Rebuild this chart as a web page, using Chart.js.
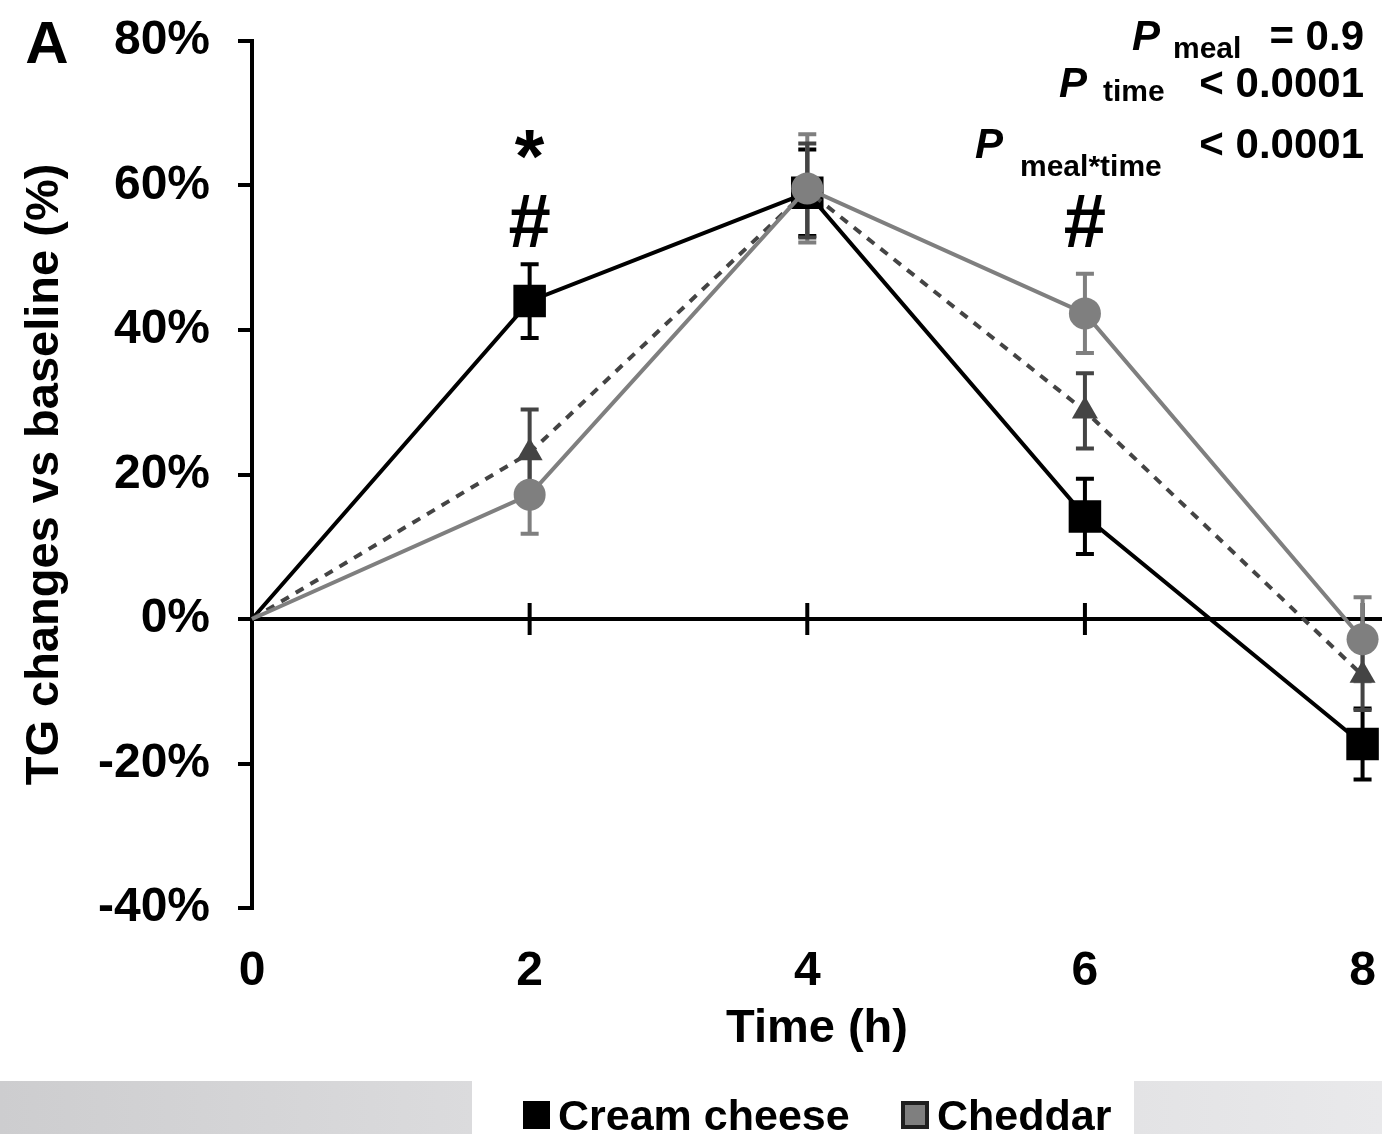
<!DOCTYPE html>
<html>
<head>
<meta charset="utf-8">
<script src="https://cdn.jsdelivr.net/npm/chart.js@4.4.1/dist/chart.umd.min.js"></script>
<style>
	html, body { margin: 0; padding: 0; background: #fff; overflow: hidden; }
	#wrap { position: relative; width: 1382px; height: 1134px; }
	canvas { display: block; }
</style>
</head>
<body>
<div id="wrap"><canvas id="tg-chart"></canvas></div>
<script>
const hours = [0, 2, 4, 6, 8]
const xTicks = [0, 2, 4, 6, 8]
const yTicks = [-40, -20, 0, 20, 40, 60, 80]

const creamCheese = [0, 44.0, 59.0, 14.2, -17.3]
const creamCheeseErr = [0, 5.1, 6.0, 5.2, 4.9]
const cheddar = [0, 17.2, 59.6, 42.3, -2.8]
const cheddarErr = [0, 5.4, 7.5, 5.5, 5.8]
const thirdMeal = [0, 23.0, 59.3, 28.8, -7.8]
const thirdMealErr = [0, 6.0, 6.5, 5.2, 4.8]

// significance marks, anchored at (hour, % change)
const sigMarks = [
	{ x: 2, y: 60.5, text: '*' },
	{ x: 2, y: 51.5, text: '#' },
	{ x: 6, y: 51.5, text: '#' }
]

const pValues = [
	{ sub: 'meal', value: '= 0.9' },
	{ sub: 'time', value: '< 0.0001' },
	{ sub: 'meal*time', value: '< 0.0001' }
]

const FONT = '"Liberation Sans", Arial, Helvetica, sans-serif'

const toPoints = values => hours.map((h, i) => { return { x: h, y: values[i] } })
// no marker at the origin, lines just start there
const radiusFrom = r => c => c.dataIndex === 0 ? 0 : r

const errorBars = {
	id: 'errorBars',
	beforeDatasetsDraw(chart) {
		const ctx = chart.ctx
		const yScale = chart.scales.y
		chart.data.datasets.forEach((ds, di) => {
			const meta = chart.getDatasetMeta(di)
			ctx.save()
			ctx.strokeStyle = ds.borderColor
			ctx.lineWidth = 4
			meta.data.forEach((pt, i) => {
				const err = ds.errors[i]
				if (!err) return
				const v = ds.data[i].y
				const top = yScale.getPixelForValue(v + err)
				const bottom = yScale.getPixelForValue(v - err)
				ctx.beginPath()
				ctx.moveTo(pt.x, top)
				ctx.lineTo(pt.x, bottom)
				ctx.moveTo(pt.x - 9, top)
				ctx.lineTo(pt.x + 9, top)
				ctx.moveTo(pt.x - 9, bottom)
				ctx.lineTo(pt.x + 9, bottom)
				ctx.stroke()
			})
			ctx.restore()
		})
	}
}

// horizontal line at 0% with tick marks crossing it; hour labels sit below the plot
const zeroAxis = {
	id: 'zeroAxis',
	beforeDatasetsDraw(chart) {
		const ctx = chart.ctx
		const x = chart.scales.x
		const y0 = chart.scales.y.getPixelForValue(0)
		ctx.save()
		ctx.strokeStyle = '#000'
		ctx.lineWidth = 4
		ctx.beginPath()
		ctx.moveTo(chart.chartArea.left - 14, y0)
		ctx.lineTo(chart.width, y0)
		xTicks.slice(1).forEach(t => {
			const px = x.getPixelForValue(t)
			ctx.moveTo(px, y0 - 16)
			ctx.lineTo(px, y0 + 16)
		})
		ctx.stroke()

		ctx.fillStyle = '#000'
		ctx.font = 'bold 48px ' + FONT
		ctx.textAlign = 'center'
		ctx.textBaseline = 'alphabetic'
		xTicks.forEach(t => {
			ctx.fillText(String(t), x.getPixelForValue(t), chart.chartArea.bottom + 77)
		})
		ctx.restore()
	}
}

const extras = {
	id: 'extras',
	afterDraw(chart) {
		const ctx = chart.ctx
		const xs = chart.scales.x
		const ys = chart.scales.y
		ctx.save()
		ctx.fillStyle = '#000'

		// panel letter
		ctx.font = 'bold 60px ' + FONT
		ctx.textAlign = 'center'
		ctx.textBaseline = 'alphabetic'
		ctx.fillText('A', 47, 63)

		// * and # over the time points
		ctx.font = 'bold 76px ' + FONT
		sigMarks.forEach(m => {
			ctx.fillText(m.text, xs.getPixelForValue(m.x), ys.getPixelForValue(m.y))
		})

		// P values, top right
		const rows = [
			{ base: 50, subBase: 58, pRight: 1160, subLeft: 1173 },
			{ base: 97, subBase: 101, pRight: 1087, subLeft: 1103 },
			{ base: 158, subBase: 176, pRight: 1003, subLeft: 1020 }
		]
		pValues.forEach((p, i) => {
			const r = rows[i]
			ctx.textAlign = 'right'
			ctx.font = 'italic bold 42px ' + FONT
			ctx.fillText('P', r.pRight, r.base)
			ctx.font = 'bold 42px ' + FONT
			ctx.fillText(p.value, 1364, r.base)
			ctx.textAlign = 'left'
			ctx.font = 'bold 30px ' + FONT
			ctx.fillText(p.sub, r.subLeft, r.subBase)
		})

		// grey bands along the bottom edge
		let g = ctx.createLinearGradient(0, 0, 472, 0)
		g.addColorStop(0, '#cdcdcf')
		g.addColorStop(1, '#dbdbdd')
		ctx.fillStyle = g
		ctx.fillRect(0, 1081, 472, 53)
		g = ctx.createLinearGradient(1134, 0, 1382, 0)
		g.addColorStop(0, '#e3e3e5')
		g.addColorStop(1, '#e9e9eb')
		ctx.fillStyle = g
		ctx.fillRect(1134, 1081, 248, 53)

		// legend
		const ds = chart.data.datasets
		ctx.font = 'bold 43px ' + FONT
		ctx.textAlign = 'left'
		ctx.fillStyle = '#000'
		ctx.fillRect(523, 1101, 27, 28)
		ctx.fillText(ds[0].label, 558, 1130)
		ctx.fillStyle = '#202020'
		ctx.fillRect(901, 1101, 28, 28)
		ctx.fillStyle = ds[1].borderColor
		ctx.fillRect(905, 1105, 20, 20)
		ctx.fillStyle = '#000'
		ctx.fillText(ds[1].label, 937, 1130)
		ctx.restore()
	}
}

document.addEventListener('DOMContentLoaded', () => {
	const ctx = document.getElementById('tg-chart')
	new Chart(ctx, {
		type: 'line',
		data: {
			datasets: [{
				label: 'Cream cheese',
				data: toPoints(creamCheese),
				errors: creamCheeseErr,
				borderColor: '#000',
				backgroundColor: '#000',
				borderWidth: 4,
				pointStyle: 'rect',
				pointRadius: radiusFrom(23),
				pointBorderWidth: 0,
				order: 3,
				clip: false
			},
			{
				label: 'Cheddar',
				data: toPoints(cheddar),
				errors: cheddarErr,
				borderColor: '#7f7f7f',
				backgroundColor: '#7f7f7f',
				borderWidth: 4,
				pointStyle: 'circle',
				pointRadius: radiusFrom(16),
				pointBorderWidth: 0,
				order: 1,
				clip: false
			},
			{
				label: 'Meal 3',
				data: toPoints(thirdMeal),
				errors: thirdMealErr,
				borderColor: '#444',
				backgroundColor: '#444',
				borderWidth: 4,
				borderDash: [9, 8],
				pointStyle: 'triangle',
				pointRadius: radiusFrom(15),
				pointBorderWidth: 0,
				order: 2,
				clip: false
			}]
		},
		options: {
			responsive: true,
			maintainAspectRatio: false,
			animation: false,
			layout: { autoPadding: false, padding: { top: 41, left: 0, right: 0, bottom: 0 } },
			plugins: {
				legend: { display: false },
				tooltip: { enabled: false }
			},
			scales: {
				x: {
					type: 'linear',
					min: 0,
					max: 8.14,
					afterBuildTicks: axis => { axis.ticks = xTicks.map(v => { return { value: v } }) },
					afterFit: axis => { axis.height = 226 },
					border: { display: false },
					grid: { display: false },
					ticks: { display: false },
					title: {
						display: true,
						text: 'Time (h)',
						color: '#000',
						font: { family: FONT, size: 47, weight: 'bold' },
						padding: { top: 0, bottom: 77 }
					}
				},
				y: {
					min: -40,
					max: 80,
					afterBuildTicks: axis => { axis.ticks = yTicks.map(v => { return { value: v } }) },
					afterFit: axis => {
						axis.width = 252
						axis.paddingTop = 0
					},
					border: { display: true, color: '#000', width: 4 },
					grid: { drawOnChartArea: false, drawTicks: true, tickLength: 14, color: '#000', lineWidth: 4 },
					ticks: {
						padding: 28,
						color: '#000',
						font: { family: FONT, size: 48, weight: 'bold' },
						callback: v => v + '%'
					},
					title: {
						display: true,
						text: 'TG changes vs baseline (%)',
						color: '#000',
						font: { family: FONT, size: 47, weight: 'bold' },
						padding: { top: 17, bottom: 0 }
					}
				}
			}
		},
		plugins: [zeroAxis, errorBars, extras]
	})
})
</script>
</body>
</html>
